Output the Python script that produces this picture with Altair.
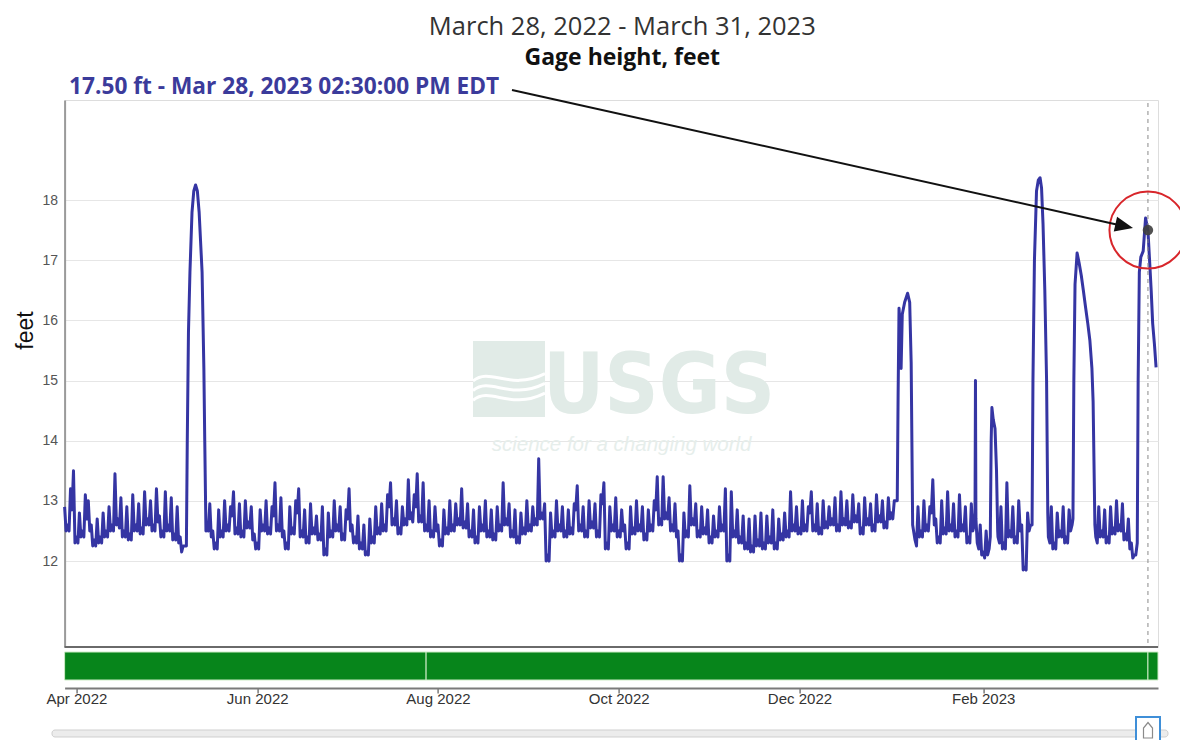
import altair as alt
import pandas as pd

# ---------------- text ----------------
title_range = "March 28, 2022 - March 31, 2023"
title_param = "Gage height, feet"
y_title = "feet"
callout_label = "17.50 ft - Mar 28, 2023 02:30:00 PM EDT"
callout_time = "2023-03-28 14:30:00"
callout_value = 17.5
watermark_word = "USGS"
watermark_tag = "science for a changing world"

y_ticks = [12, 13, 14, 15, 16, 17, 18]
x_tick_dates = [(2022, 4, 1), (2022, 6, 1), (2022, 8, 1), (2022, 10, 1), (2022, 12, 1), (2023, 2, 1)]
domain_start = (2022, 3, 28)
domain_end = (2023, 4, 1)

# qualifier bar segment boundaries
qual_bounds = ["2022-03-28 00:00:00", "2022-07-28 00:00:00", "2023-03-28 14:30:00", "2023-04-01 00:00:00"]

START = pd.Timestamp("2022-03-28 00:00:00")

# ---------------- data (feet), day offsets from Mar 28, 2022 ----------------
# baseline readings: one at the start of each day and one at mid-day
base_a_start = 0
base_a = [12.9, 12.6, 13.2, 13.5, 12.4, 12.8, 12.5, 13.1, 13.0, 12.6,
          12.35, 12.7, 12.4, 12.8, 12.5, 12.9, 12.6, 13.45, 12.7, 13.05,
          12.5, 12.9, 12.45, 13.1, 12.6, 12.95, 12.55, 13.15, 12.7, 13.0,
          12.6, 13.2, 12.75, 12.5, 13.15, 12.6, 13.05, 12.45, 12.9, 12.4,
          12.25]
base_a_mid = [12.5, 12.5, 12.85, 12.3, 12.3, 12.4, 12.4, 12.7, 12.5, 12.25,
              12.25, 12.3, 12.3, 12.4, 12.4, 12.5, 12.5, 12.6, 12.55, 12.4,
              12.4, 12.35, 12.35, 12.5, 12.5, 12.45, 12.45, 12.6, 12.6, 12.5,
              12.5, 12.65, 12.4, 12.4, 12.5, 12.5, 12.35, 12.35, 12.3, 12.15]

peak1_days = [41.1, 41.4, 41.8, 42.3, 43.0, 43.6, 44.2, 44.8, 45.4, 46.4, 47.0, 47.3, 47.7]
peak1_vals = [12.25, 14.0, 15.8, 16.8, 17.8, 18.15, 18.25, 18.15, 17.8, 16.8, 15.2, 14.0, 12.5]

base_b_start = 48
base_b = [12.6, 12.95, 12.5, 12.3, 12.85, 12.5, 13.0, 12.6, 12.9, 13.15,
          12.55, 12.95, 12.5, 13.0, 12.65, 12.9, 12.45, 12.3, 12.85, 12.6,
          13.0, 12.55, 12.9, 13.3, 12.6, 13.05, 12.5, 12.3, 12.9, 12.55,
          13.0, 13.2, 12.5, 12.85, 12.4, 12.95, 12.55, 12.75, 12.45, 12.9,
          12.2, 12.8, 12.5, 13.0, 12.6, 12.9, 12.45, 12.85, 13.2, 12.6,
          12.4, 12.75, 12.3, 12.6, 12.15, 12.7, 12.4, 12.9, 12.55, 12.95,
          12.6, 13.1, 13.3, 12.7, 13.0, 12.55, 12.9, 12.7, 13.35, 12.8,
          13.1, 13.45, 12.75, 13.3, 12.6, 13.0, 12.5, 12.9, 12.6, 12.35,
          12.85, 12.55, 13.0, 12.6, 12.95, 12.7, 13.2, 12.65, 12.95, 12.5,
          12.85, 12.4, 12.9, 12.6, 13.0, 12.5, 12.85, 12.45, 12.9, 12.6,
          13.3, 12.7, 12.95, 12.5, 12.85, 12.4, 12.8, 12.55, 13.0, 12.6,
          12.9, 12.7, 13.7, 12.8, 12.95, 12.1, 12.8, 12.5, 13.0, 12.6,
          12.9, 12.5, 12.85, 12.55, 12.95, 13.25, 12.6, 12.9, 12.5, 13.0,
          12.65, 12.95, 12.5, 13.1, 13.3, 12.3, 12.9, 12.6, 13.05, 12.5,
          12.85, 12.6, 12.3, 12.9, 12.55, 13.0, 12.6, 12.9, 12.45, 12.85,
          12.6, 13.0, 13.4, 12.7, 13.4, 12.8, 13.05, 12.6, 12.95, 12.5,
          12.1, 12.8, 12.5, 13.25, 12.7, 12.95, 12.5, 12.9, 12.55, 12.85,
          12.4, 12.75, 12.5, 12.9, 12.6, 13.2, 12.1, 13.15, 12.5, 12.85,
          12.4, 12.75, 12.3, 12.7, 12.25, 12.75, 12.35, 12.8, 12.3, 12.75,
          12.4, 12.85, 12.3, 12.7, 12.45, 12.8, 12.5, 13.15, 12.6, 12.9,
          12.55, 13.0, 12.6, 12.9, 13.15, 12.6, 12.95, 12.55, 13.0, 12.65,
          12.9, 12.7, 13.05, 12.6, 13.15, 12.7, 13.0, 12.65, 13.1, 12.75,
          12.95, 12.55, 13.05, 12.7, 12.95, 12.6, 13.1, 12.75, 13.0, 12.65,
          13.05, 12.8, 13.0]
base_b_mid = [12.5, 12.4, 12.2, 12.2, 12.4, 12.4, 12.5, 12.5, 12.75, 12.45,
              12.45, 12.4, 12.4, 12.55, 12.55, 12.35, 12.2, 12.2, 12.5, 12.5,
              12.45, 12.45, 12.75, 12.5, 12.5, 12.4, 12.2, 12.2, 12.45, 12.45,
              12.8, 12.4, 12.4, 12.3, 12.3, 12.45, 12.45, 12.35, 12.35, 12.1,
              12.1, 12.4, 12.4, 12.5, 12.5, 12.35, 12.35, 12.7, 12.5, 12.3,
              12.3, 12.2, 12.2, 12.1, 12.1, 12.3, 12.3, 12.45, 12.45, 12.5,
              12.5, 12.9, 12.6, 12.6, 12.45, 12.45, 12.6, 12.6, 12.7, 12.65,
              12.9, 12.65, 12.65, 12.5, 12.5, 12.4, 12.4, 12.5, 12.25, 12.25,
              12.45, 12.45, 12.5, 12.5, 12.6, 12.6, 12.55, 12.55, 12.4, 12.4,
              12.3, 12.3, 12.5, 12.5, 12.4, 12.4, 12.35, 12.35, 12.5, 12.5,
              12.6, 12.6, 12.4, 12.4, 12.3, 12.3, 12.45, 12.45, 12.5, 12.5,
              12.6, 12.6, 12.7, 12.7, 12.0, 12.0, 12.4, 12.4, 12.5, 12.5,
              12.4, 12.4, 12.45, 12.45, 12.85, 12.5, 12.5, 12.4, 12.4, 12.55,
              12.55, 12.4, 12.4, 12.95, 12.2, 12.2, 12.5, 12.5, 12.4, 12.4,
              12.5, 12.2, 12.2, 12.45, 12.45, 12.5, 12.5, 12.35, 12.35, 12.5,
              12.5, 12.85, 12.6, 12.6, 12.7, 12.7, 12.5, 12.5, 12.4, 12.0,
              12.0, 12.4, 12.4, 12.6, 12.6, 12.4, 12.4, 12.45, 12.45, 12.3,
              12.3, 12.4, 12.4, 12.5, 12.5, 12.0, 12.0, 12.4, 12.4, 12.3,
              12.3, 12.2, 12.2, 12.15, 12.15, 12.25, 12.25, 12.2, 12.2, 12.3,
              12.3, 12.2, 12.2, 12.35, 12.35, 12.4, 12.4, 12.5, 12.5, 12.45,
              12.45, 12.5, 12.5, 12.8, 12.5, 12.5, 12.45, 12.45, 12.55, 12.55,
              12.6, 12.6, 12.5, 12.5, 12.6, 12.6, 12.55, 12.55, 12.65, 12.65,
              12.45, 12.45, 12.6, 12.6, 12.5, 12.5, 12.65, 12.65, 12.55, 12.55,
              12.7, 12.7]

peak2_days = [281.0, 281.3, 281.6, 282.0, 282.3, 282.7, 283.5, 284.5, 285.2, 285.7, 286.2]
peak2_vals = [13.0, 14.8, 16.2, 15.9, 15.2, 16.1, 16.3, 16.45, 16.3, 15.3, 12.6]

base_c_start = 287
base_c = [12.35, 12.9, 12.5, 13.0, 12.6, 12.9, 13.35, 12.7, 12.4, 13.0,
          12.55, 13.15, 12.6, 12.95, 12.5, 13.1, 12.6, 12.9, 12.4, 12.95,
          12.6]
base_c_mid = [12.25, 12.4, 12.4, 12.5, 12.5, 12.8, 12.6, 12.3, 12.3, 12.45,
              12.45, 12.5, 12.5, 12.4, 12.4, 12.5, 12.5, 12.3, 12.3, 12.5]

spike_days = [307.25, 307.4, 307.55]
spike_vals = [12.8, 15.0, 12.7]

base_c2_start = 308
base_c2 = [12.3, 12.6, 12.15, 12.5, 12.2]
base_c2_mid = [12.2, 12.1, 12.05, 12.1]

peak3_days = [312.4, 312.7, 312.95, 313.4, 314.0, 314.5, 314.9]
peak3_vals = [12.4, 14.0, 14.55, 14.35, 14.2, 13.5, 12.5]

base_d_start = 315
base_d = [12.4, 12.9, 12.3, 13.3, 12.5, 12.9, 12.4, 13.0, 12.6, 11.9, 12.8, 12.6]
base_d_mid = [12.3, 12.2, 12.2, 12.4, 12.4, 12.3, 12.3, 12.5, 11.85, 11.85, 12.5]

peak4_days = [326.5, 326.8, 327.3, 328.0, 328.6, 329.2, 329.7, 330.2, 330.8, 331.4, 331.8]
peak4_vals = [12.6, 15.0, 17.0, 18.15, 18.33, 18.37, 18.2, 17.6, 16.5, 15.0, 12.8]

base_e_start = 332
base_e = [12.4, 12.9, 12.3, 12.8, 12.5, 12.9, 12.4, 12.85, 12.6]
base_e_mid = [12.3, 12.2, 12.2, 12.4, 12.4, 12.3, 12.3, 12.5]

peak5_days = [340.3, 340.6, 341.0, 341.7, 342.4, 343.1, 343.8, 344.6, 345.3, 346.0, 346.7, 347.1, 347.7]
peak5_vals = [12.7, 15.0, 16.6, 17.12, 16.95, 16.75, 16.5, 16.2, 15.95, 15.67, 15.2, 14.65, 12.6]

base_f_start = 348
base_f = [12.4, 12.9, 12.5, 12.85, 12.4, 12.9, 12.55, 13.0, 12.6, 12.95, 12.45, 12.7, 12.3, 12.1]
base_f_mid = [12.3, 12.4, 12.4, 12.3, 12.3, 12.45, 12.45, 12.5, 12.5, 12.35, 12.35, 12.2, 12.05]

peak6_days = [361.5, 362.0, 362.3, 362.7, 363.2, 364.0, 364.8, 365.6, 366.1, 366.7, 367.2, 367.8, 368.35]
peak6_vals = [12.1, 12.3, 15.0, 16.8, 17.05, 17.15, 17.7, 17.5, 17.05, 16.5, 15.95, 15.6, 15.22]

# ---------------- assemble ----------------
pts = []
for s, vals, mids in [(base_a_start, base_a, base_a_mid), (base_b_start, base_b, base_b_mid),
                      (base_c_start, base_c, base_c_mid), (base_c2_start, base_c2, base_c2_mid),
                      (base_d_start, base_d, base_d_mid), (base_e_start, base_e, base_e_mid),
                      (base_f_start, base_f, base_f_mid)]:
    for i, v in enumerate(vals):
        pts.append((s + i, v))
    for i, v in enumerate(mids):
        pts.append((s + i + 0.5, v))
for ds, vs in [(peak1_days, peak1_vals), (peak2_days, peak2_vals), (spike_days, spike_vals),
               (peak3_days, peak3_vals), (peak4_days, peak4_vals), (peak5_days, peak5_vals),
               (peak6_days, peak6_vals)]:
    pts.extend(zip(ds, vs))

df = pd.DataFrame(pts, columns=["d", "v"]).sort_values("d").reset_index(drop=True)
df["t"] = START + pd.to_timedelta(df["d"], unit="D")
df = df[["t", "v"]]

marker_df = pd.DataFrame({"t": [pd.Timestamp(callout_time)], "v": [callout_value]})
qual_df = pd.DataFrame({"t": pd.to_datetime(qual_bounds[:-1]), "t2": pd.to_datetime(qual_bounds[1:])})
one = pd.DataFrame({"k": [0]})

# ---------------- layout constants (pixels) ----------------
W = 1093.4
H = 547
LINE_COLOR = "#3535a3"

def dt(t):
    return alt.DateTime(year=t[0], month=t[1], date=t[2])

xscale = alt.Scale(domain=[dt(domain_start), dt(domain_end)], nice=False)
xaxis = alt.Axis(values=[dt(t) for t in x_tick_dates], format="%b %Y", offset=41,
                 grid=False, domainColor="#7a7a7a", domainWidth=2, tickColor="#7a7a7a",
                 tickSize=5, tickWidth=1.5, labelPadding=-2, labelFont="Liberation Sans",
                 labelFontSize=15, labelColor="#333333", labelFlush=False)
xenc = alt.X("t:T", scale=xscale, axis=xaxis, title=None)

yscale = alt.Scale(domain=[10.571, 19.662], nice=False, zero=False)
yaxis = alt.Axis(values=y_ticks, grid=True, gridColor="#e6e6e6", gridWidth=1,
                 domainColor="#9a9a9a", domainWidth=2, ticks=False, labelPadding=7,
                 labelFont="Liberation Sans", labelFontSize=14, labelColor="#555555",
                 title=y_title, titleFont="Liberation Sans", titleFontSize=23,
                 titleFontWeight="normal", titleColor="#111111", titlePadding=5,
                 titleY=230)
yenc = alt.Y("v:Q", scale=yscale, axis=yaxis)

WM = "#e1ebe7"
wm_rect = alt.Chart(one).mark_rect(color=WM).encode(
    x=alt.value(408.4), x2=alt.value(480.4), y=alt.value(241), y2=alt.value(317))
wm_waves = alt.Chart(one).mark_point(
    shape="M-1,0.05 C-0.5,-0.35 0,0.35 1,-0.15 M-1,0.32 C-0.5,-0.08 0,0.62 1,0.12 M-1,0.59 C-0.5,0.19 0,0.89 1,0.39",
    filled=False, size=5184, stroke="white", strokeWidth=3, opacity=1).encode(
    x=alt.value(444.4), y=alt.value(279))
wm_word = alt.Chart(one).mark_text(
    text=watermark_word, font="DejaVu Sans Condensed, Liberation Sans", fontSize=84,
    fontWeight="bold", color=WM, align="center", baseline="alphabetic").encode(
    x=alt.value(594.4), y=alt.value(313))
wm_tag = alt.Chart(one).mark_text(
    text=watermark_tag, font="Liberation Sans", fontSize=20.5, fontStyle="italic",
    color="#e6eeeb", align="center", baseline="alphabetic").encode(x=alt.value(557), y=alt.value(351))

line = alt.Chart(df).mark_line(color=LINE_COLOR, strokeWidth=3, strokeJoin="round").encode(
    x=xenc, y=yenc)

vline = alt.Chart(marker_df).mark_rule(color="#8a8a8a", strokeDash=[4, 4], strokeWidth=1).encode(
    x=xenc, y=alt.value(3), y2=alt.value(H))

bottom_rule = alt.Chart(one).mark_rule(color="#6a6a6a", strokeWidth=2).encode(
    x=alt.value(0), x2=alt.value(W), y=alt.value(H))

qual = alt.Chart(qual_df).mark_rect(color="#07851b", stroke="#cdebc6", strokeWidth=1).encode(
    x=xenc, x2="t2:T", y=alt.value(552), y2=alt.value(580))

marker = alt.Chart(marker_df).mark_point(
    shape="circle", filled=True, size=110, color="#3f3f3f", opacity=0.9).encode(x=xenc, y=yenc)
ring = alt.Chart(marker_df).mark_point(
    shape="circle", filled=False, size=5929, stroke="#d8262b", strokeWidth=2, opacity=1).encode(
    x=xenc, y=yenc)

arrow_line = alt.Chart(one).mark_rule(color="#111111", strokeWidth=2).encode(
    x=alt.value(447.4), y=alt.value(-10), x2=alt.value(1052), y2=alt.value(124.4))
arrow_head = alt.Chart(one).mark_point(
    shape="M0,0 L-1,-0.42 L-1,0.42 Z", filled=True, size=1296, color="#111111",
    angle=12.5, opacity=1).encode(x=alt.value(1068.4), y=alt.value(128))

callout = alt.Chart(one).mark_text(
    text=callout_label, font="Open Sans", fontSize=22.7, fontWeight="bold",
    color="#3b3b9b", align="left", baseline="middle").encode(x=alt.value(4.4), y=alt.value(-13))

track = alt.Chart(one).mark_rect(color="#ececec", stroke="#cfcfcf", strokeWidth=1, cornerRadius=3).encode(
    x=alt.value(-12.6), x2=alt.value(1103.4), y=alt.value(630), y2=alt.value(637))
handle = alt.Chart(one).mark_point(
    shape="square", filled=True, size=576, fill="white", stroke="#3f8fd8", strokeWidth=2,
    opacity=1).encode(x=alt.value(1083.4), y=alt.value(629))
handle_icon = alt.Chart(one).mark_point(
    shape="M-0.45,0.8 L-0.45,-0.2 L0,-0.75 L0.45,-0.2 L0.45,0.8 Z", filled=False, size=400,
    stroke="#8a8a8a", strokeWidth=1.2, opacity=1).encode(x=alt.value(1083.4), y=alt.value(630))

chart = alt.layer(
    wm_rect, wm_waves, wm_word, wm_tag, line, vline, bottom_rule, qual, marker, ring,
    arrow_line, arrow_head, callout, track, handle, handle_icon
).properties(
    width=W, height=H,
    title=alt.TitleParams(
        text=title_range, subtitle=title_param, font="Open Sans", fontSize=25.5,
        fontWeight="normal", color="#333333", subtitleFont="Open Sans", subtitleFontSize=23,
        subtitleFontWeight="bold", subtitleColor="#111111", subtitlePadding=7,
        offset=6, anchor="middle", dx=11),
    padding={"left": 56.6, "top": 92, "right": 22, "bottom": 93},
    autosize=alt.AutoSizeParams(type="none"),
).configure_view(stroke=None).configure(background="white")

chart.save("out.html", embed_options={"renderer": "svg", "actions": False})
